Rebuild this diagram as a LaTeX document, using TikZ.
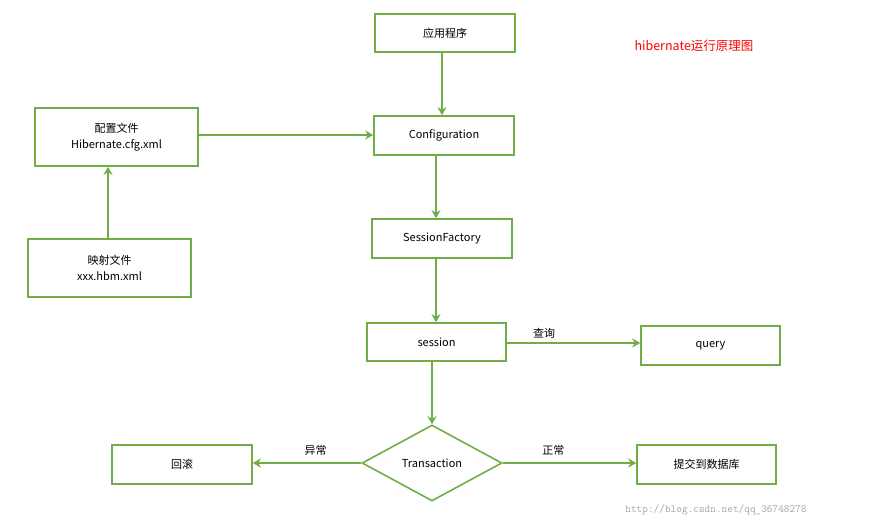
\documentclass[tikz,border=0pt]{standalone}
\usepackage{fontspec}
\setmainfont{Noto Sans CJK SC}
\usetikzlibrary{shapes.geometric,arrows.meta}
\definecolor{gr}{RGB}{112,173,71}
\tikzset{
 bx/.style={draw=gr,line width=1.6pt,fill=white,inner sep=0pt,font=\fontsize{11}{13}\selectfont},
 ar/.style={draw=gr,line width=1.6pt,-{Stealth[length=8pt,width=9pt]}},
 lb/.style={font=\fontsize{11}{13}\selectfont}
}
\begin{document}
\begin{tikzpicture}[x=1pt,y=-1pt]
\useasboundingbox[fill=white] (0,0) rectangle (887,528);
\node[bx,minimum width=140,minimum height=38] (app) at (445,33) {应用程序};
\node[bx,minimum width=140,minimum height=39] (cfg) at (444,135.5) {Configuration};
\node[bx,minimum width=163,minimum height=58,align=center] (cf) at (116.5,137) {配置文件\\[3pt]Hibernate.cfg.xml};
\node[bx,minimum width=163,minimum height=58,align=center] (map) at (109.5,268) {映射文件\\[3pt]xxx.hbm.xml};
\node[bx,minimum width=140,minimum height=39] (sf) at (442,238.5) {SessionFactory};
\node[bx,minimum width=139,minimum height=38] (ss) at (436.5,342) {session};
\node[bx,minimum width=139,minimum height=39] (q) at (710.5,345.5) {query};
\node[bx,diamond,minimum width=140,minimum height=76,inner sep=0pt] (tx) at (432,463) {Transaction};
\node[bx,minimum width=140,minimum height=39] (rb) at (182,464.5) {回滚};
\node[bx,minimum width=139,minimum height=39] (cm) at (706.5,464.5) {提交到数据库};
\node[lb,text=red,font=\fontsize{12.5}{14}\selectfont] (title) at (694,46) {hibernate运行原理图};
\node[text=gray!70,font=\ttfamily\fontsize{11}{12}\selectfont] (wm) at (716,510) {http://blog.csdn.net/qq\_36748278};
\draw[ar] (app.south -| 442,0) -- (cfg.north -| 442,0);
\draw[ar] (cf.east |- 0,135) -- (cfg.west |- 0,135);
\draw[ar] (map.north -| 108,0) -- (cf.south -| 108,0);
\draw[ar] (cfg.south -| 436,0) -- (sf.north -| 436,0);
\draw[ar] (sf.south -| 436,0) -- (ss.north -| 436,0);
\draw[ar] (ss.south -| 432,0) -- (tx.north);
\draw[ar] (ss.east |- 0,343) -- node[lb,above=1pt,pos=0.28]{查询} (q.west |- 0,343);
\draw[ar] (tx.west) -- node[lb,above=3pt,pos=0.42]{异常} (rb.east |- tx.west);
\draw[ar] (tx.east) -- node[lb,above=3pt,pos=0.38]{正常} (cm.west |- tx.east);
\end{tikzpicture}
\end{document}
